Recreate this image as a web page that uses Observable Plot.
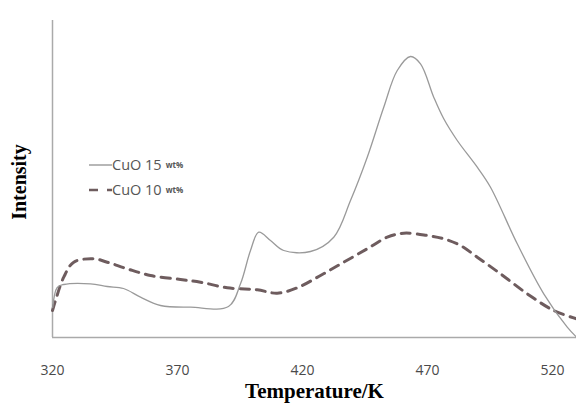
<!DOCTYPE html>
<html>
<head>
<meta charset="utf-8">
<script src="https://cdn.jsdelivr.net/npm/d3@7"></script>
<script src="https://cdn.jsdelivr.net/npm/@observablehq/plot@0.6"></script>
<style>
  html, body { margin: 0; padding: 0; background: #fff; }
  #wrap { position: relative; width: 576px; height: 412px; }
  #legend { position: absolute; left: 88px; top: 152px; font-family: "Open Sans", sans-serif; color: #555; font-size: 14.5px; }
  #legend .row { display: flex; align-items: center; height: 25px; }
  #legend small { font-size: 8px; margin-left: 4px; font-weight: bold; }
</style>
</head>
<body>
<div id="wrap"></div>
<script>
// Temperature (K) and intensity (a.u.)
const temp15 = [320.1, 321.9, 324.5, 335.2, 341.9, 348.4, 355.2, 363.2, 375.2, 390.4, 395.2, 399.2, 402.5, 407.2, 412.5, 423.2, 432.5, 439.2, 445.9, 452.5, 457.9, 463.2, 467.2, 472.5, 476.5, 481.9, 489.9, 495.2, 505.9, 516.5, 525.9, 529.6];
const int15  = [30, 50, 53, 53.7, 51, 49, 40.3, 32, 30.3, 31, 53.7, 87, 105.3, 97, 87, 86, 100.3, 137, 180.3, 230.3, 267, 281, 273.7, 240.3, 218.7, 197, 170.3, 150.3, 93.7, 43.7, 10.3, 0.3];
const temp10 = [320, 321.2, 324.5, 328.5, 336.5, 341.9, 349.9, 359.2, 371.2, 379.2, 389.9, 401.9, 409.9, 417.9, 427.2, 436.5, 445.9, 453.9, 460.5, 469.9, 476.5, 483.2, 489.9, 499.2, 509.9, 520.5, 529.6];
const int10  = [27, 37, 60.3, 75.3, 78.7, 75.3, 68.7, 62, 58, 55.3, 49.7, 47.7, 44.3, 49.7, 62, 75.3, 88.7, 100.3, 104.3, 102, 98.7, 92, 80.3, 63.7, 43.7, 27, 18.7];
const xTicks = [320, 370, 420, 470, 520];
const seriesNames = ["CuO 15", "CuO 10"];

const s15 = temp15.map((t, i) => ({t, v: int15[i]}));
const s10 = temp10.map((t, i) => ({t, v: int10[i]}));

const chart = Plot.plot({
  width: 576,
  height: 412,
  marginLeft: 52,
  marginRight: 0,
  marginTop: 20,
  marginBottom: 75,
  x: {domain: [320, 529.6]},
  y: {domain: [0, 317], axis: null},
  style: {background: "#fff"},
  marks: [
    Plot.axisX({ticks: xTicks, tickSize: 0, tickPadding: 28, label: null,
      fontSize: 14, fill: "#4a4a4a", fontFamily: "Open Sans, sans-serif"}),
    Plot.ruleY([0], {stroke: "#aaa", strokeWidth: 1.5}),
    Plot.ruleX([320], {y1: 0, y2: 317, stroke: "#aaa", strokeWidth: 1.5}),
    Plot.line(s10, {x: "t", y: "v", curve: "catmull-rom", stroke: "#6e5c5e", strokeWidth: 3, strokeDasharray: "9,7"}),
    Plot.line(s15, {x: "t", y: "v", curve: "catmull-rom", stroke: "#9a9a9a", strokeWidth: 1.3}),
    Plot.text(["Temperature/K"], {frameAnchor: "bottom", dy: 60, fontSize: 21, fontWeight: "bold",
      fontFamily: "Liberation Serif, Times New Roman, serif", fill: "#000"}),
    Plot.text(["Intensity"], {frameAnchor: "left", textAnchor: "middle", dx: -33, dy: 3, rotate: -90, fontSize: 20, fontWeight: "bold",
      fontFamily: "Liberation Serif, Times New Roman, serif", fill: "#000"})
  ]
});
document.getElementById("wrap").appendChild(chart);

const legend = document.createElement("div");
legend.id = "legend";
legend.innerHTML = `
  <div class="row"><svg width="24" height="10"><line x1="1" y1="5" x2="24" y2="5" stroke="#888" stroke-width="1.2"/></svg><span>${seriesNames[0]}</span><small>wt%</small></div>
  <div class="row"><svg width="24" height="10"><line x1="1" y1="5" x2="24" y2="5" stroke="#6e5c5e" stroke-width="2.5" stroke-dasharray="9,9"/></svg><span>${seriesNames[1]}</span><small>wt%</small></div>`;
document.getElementById("wrap").appendChild(legend);
</script>
</body>
</html>
